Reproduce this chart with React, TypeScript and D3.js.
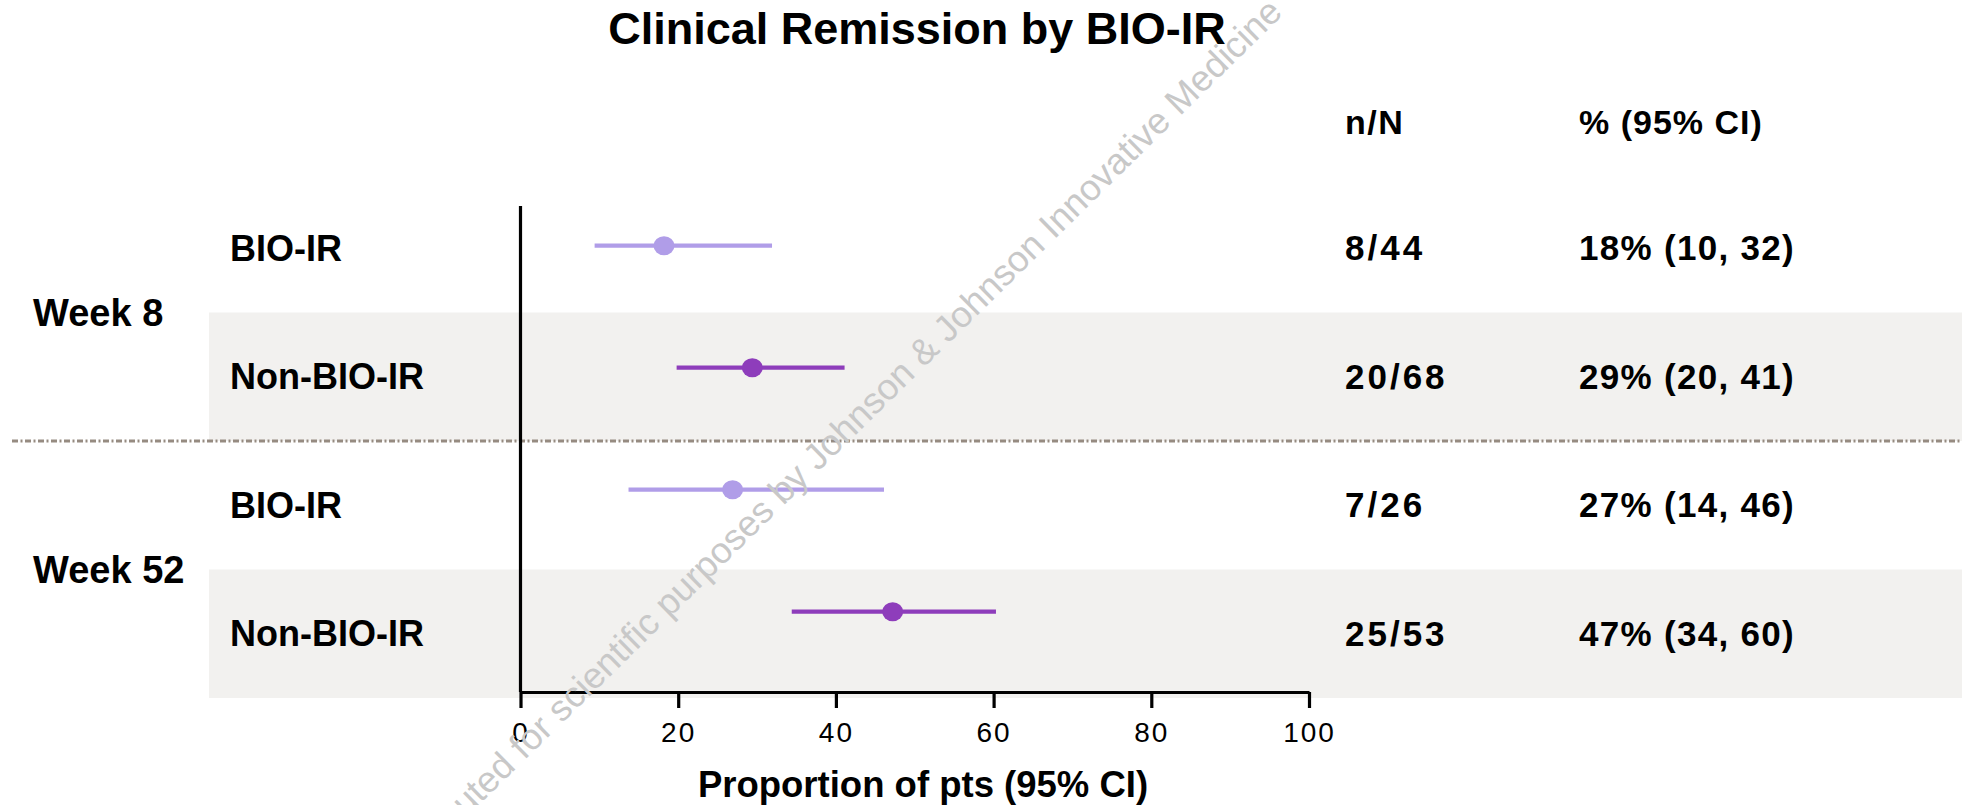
import React, { useEffect, useRef } from "react";
import * as d3 from "d3";

const weeks = ["Week 8", "Week 52"];
const groups = ["BIO-IR", "Non-BIO-IR", "BIO-IR", "Non-BIO-IR"];
const rowWeek = [0, 0, 1, 1];
const estimates = [18.2, 29.4, 26.9, 47.2];
const lower = [9.4, 19.8, 13.7, 34.4];
const upper = [31.9, 41.1, 46.1, 60.3];
const nN = ["8/44", "20/68", "7/26", "25/53"];
const pctCI = ["18% (10, 32)", "29% (20, 41)", "27% (14, 46)", "47% (34, 60)"];
const xTicks = [0, 20, 40, 60, 80, 100];
const shaded = [false, true, false, true];
const groupColors = ["#B09DE8", "#8E3DBB", "#B09DE8", "#8E3DBB"];

const W = 1962;
const H = 805;
const FONT = "'Liberation Sans', Arial, Helvetica, sans-serif";

export default function App() {
  const axisRef = useRef<SVGGElement>(null);
  const rows = d3.range(groups.length);
  const x = d3.scaleLinear().domain([0, 100]).range([520.5, 1309]);
  const yBand = d3.scaleBand<number>().domain(rows).range([184, 698]).padding(0);
  const yPt = d3.scalePoint<number>().domain(rows).range([245.7, 611.7]);
  const bandMid = (i: number) => (yBand(i) as number) + yBand.bandwidth() / 2;

  useEffect(() => {
    document.body.style.margin = "0";
    if (!axisRef.current) return;
    const g = d3.select(axisRef.current);
    g.selectAll("*").remove();
    g.call(
      d3
        .axisBottom(x)
        .tickValues(xTicks)
        .tickSize(16)
        .tickSizeOuter(0)
        .tickPadding(14)
        .tickFormat((d) => String(d))
    );
    g.select(".domain").attr("stroke", "#000").attr("stroke-width", 3.2);
    g.selectAll(".tick line").attr("stroke", "#000").attr("stroke-width", 3.2);
    g.selectAll(".tick text")
      .attr("fill", "#000")
      .attr("font-size", 28)
      .attr("font-family", FONT)
      .attr("letter-spacing", 2)
      .attr("dy", "0.71em");
  }, []);

  return (
    <svg width={W} height={H} style={{ position: "absolute", left: 0, top: 0, background: "#fff" }}>
      {/* shaded bands */}
      {rows.map((i) =>
        shaded[i] ? (
          <rect key={"b" + i} x={209} y={yBand(i)} width={W - 209} height={yBand.bandwidth()} fill="#F2F1EF" />
        ) : null
      )}
      {/* divider between weeks */}
      <line x1={12} x2={W} y1={yBand(2)} y2={yBand(2)} stroke="#968B81" strokeWidth={2.8} strokeDasharray="6,2.5,2,2.5" />

      {/* title */}
      <text x={917} y={44} textAnchor="middle" fontFamily={FONT} fontWeight="bold" fontSize={45} fill="#000">
        Clinical Remission by BIO-IR
      </text>

      {/* column headers */}
      <text x={1345} y={133.6} fontFamily={FONT} fontWeight="bold" fontSize={34} letterSpacing={1.5} fill="#000">n/N</text>
      <text x={1579} y={133.6} fontFamily={FONT} fontWeight="bold" fontSize={34} letterSpacing={1} fill="#000">% (95% CI)</text>

      {/* week labels */}
      {weeks.map((w, wi) => {
        const idx = rows.filter((r) => rowWeek[r] === wi);
        const cy = d3.mean(idx, (r) => bandMid(r)) as number;
        return (
          <text key={w} x={33} y={cy + 13} fontFamily={FONT} fontWeight="bold" fontSize={38} fill="#000">
            {w}
          </text>
        );
      })}

      {/* row labels and table values */}
      {rows.map((i) => (
        <g key={"t" + i} fontFamily={FONT} fontWeight="bold" fill="#000">
          <text x={230} y={bandMid(i) + 12.5} fontSize={36}>{groups[i]}</text>
          <text x={1345} y={bandMid(i) + 12} fontSize={35} letterSpacing={3}>{nN[i]}</text>
          <text x={1579} y={bandMid(i) + 12} fontSize={35} letterSpacing={1.3}>{pctCI[i]}</text>
        </g>
      ))}

      {/* CI lines and points */}
      {rows.map((i) => (
        <g key={"m" + i}>
          <line x1={x(lower[i])} x2={x(upper[i])} y1={yPt(i)} y2={yPt(i)} stroke={groupColors[i]} strokeWidth={4.2} />
          <ellipse cx={x(estimates[i])} cy={yPt(i)} rx={10.5} ry={9.5} fill={groupColors[i]} />
        </g>
      ))}

      {/* y axis line */}
      <line x1={x(0)} x2={x(0)} y1={206} y2={692} stroke="#000" strokeWidth={3.2} />
      {/* x axis */}
      <g ref={axisRef} transform="translate(0,692)" />

      <text x={923} y={797} textAnchor="middle" fontFamily={FONT} fontWeight="bold" fontSize={36.5} fill="#000">
        Proportion of pts (95% CI)
      </text>

      {/* watermark */}
      <text
        transform="translate(1284,14) rotate(-44.5)"
        textAnchor="end"
        fontFamily={FONT}
        fontSize={36.5}
        fill="#C8C8C8"
      >
        Distributed for scientific purposes by Johnson &amp; Johnson Innovative Medicine
      </text>
    </svg>
  );
}
